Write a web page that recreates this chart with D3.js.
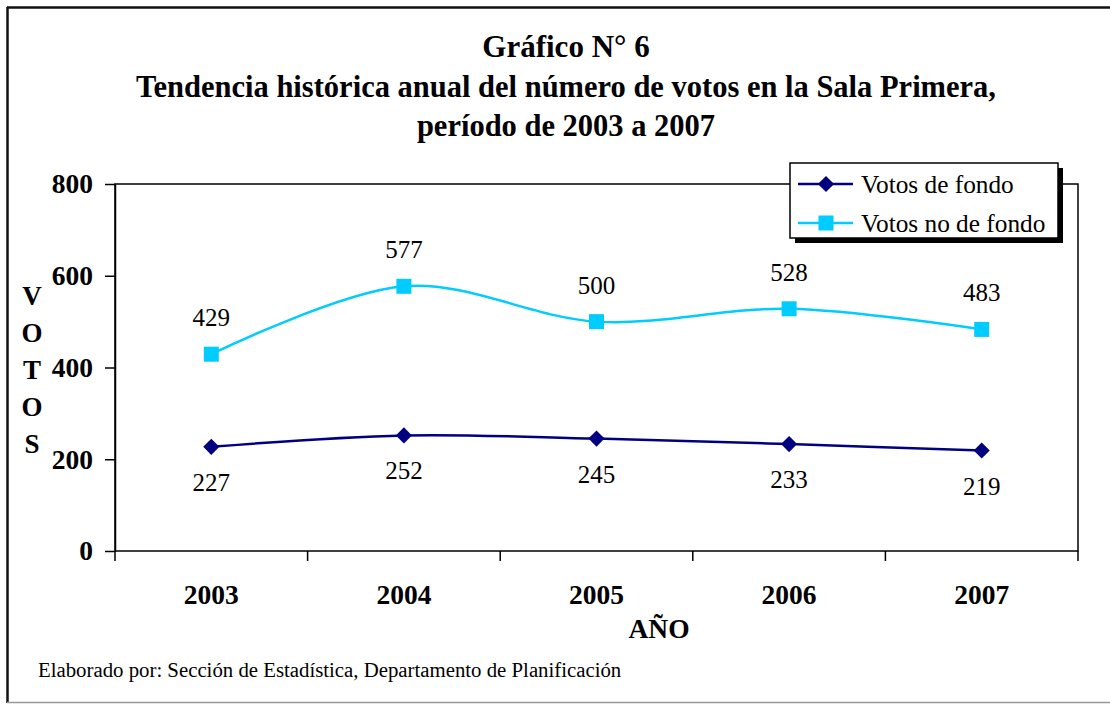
<!DOCTYPE html>
<html><head><meta charset="utf-8">
<script src="https://cdn.jsdelivr.net/npm/d3@7"></script>
<style>body{margin:0;background:#fff}svg{display:block}svg text{font-family:'Liberation Serif',serif !important}</style>
</head><body><svg id="c" width="1110" height="704" font-family="Liberation Serif, serif"></svg>
<script>
const years = ["2003","2004","2005","2006","2007"];
const votosFondo = [227,252,245,233,219];
const votosNoFondo = [429,577,500,528,483];
const yTicks = [0,200,400,600,800];
const seriesNames = ["Votos de fondo","Votos no de fondo"];
const titleLines = ["Gráfico N° 6","Tendencia histórica anual del número de votos en la Sala Primera,","período de 2003 a 2007"];

const svg = d3.select("#c");
// outer frame
svg.append("line").attr("x1",7).attr("y1",7.5).attr("x2",1110).attr("y2",7.5).attr("stroke","#111").attr("stroke-width",2.5);
svg.append("line").attr("x1",7.5).attr("y1",7).attr("x2",7.5).attr("y2",703).attr("stroke","#111").attr("stroke-width",2.5);
svg.append("line").attr("x1",7).attr("y1",702.5).attr("x2",1110).attr("y2",702.5).attr("stroke","#999").attr("stroke-width",1.5);

const L=115,R=1078,T=184,B=551;
const x = d3.scaleBand().domain(years).range([L,R]);
const y = d3.scaleLinear().domain([0,800]).range([B,T]);

// title
const tt = svg.append("g");
titleLines.forEach((t,i)=>tt.append("text").attr("x",566).attr("y",57+i*39.5).attr("text-anchor","middle")
  .attr("font-weight","bold").attr("font-size",i===0?31:30.5).text(t));

// plot border
svg.append("rect").attr("x",L).attr("y",T).attr("width",R-L).attr("height",B-T).attr("fill","none").attr("stroke","#000").attr("stroke-width",1.5);

// y axis
const ya = svg.append("g").attr("transform",`translate(${L},0)`).call(d3.axisLeft(y).tickValues(yTicks).tickSize(10).tickSizeOuter(0).tickPadding(12));
ya.attr("font-family",null);
ya.select(".domain").attr("stroke-width",1.5);
ya.selectAll(".tick line").attr("stroke-width",1.5);
ya.selectAll(".tick text").attr("font-size",27.5).attr("font-weight","bold").attr("fill","#000");

// x axis
const xa = svg.append("g").attr("transform",`translate(0,${B})`).call(d3.axisBottom(x).tickSize(0).tickPadding(33));
xa.attr("font-family",null);
xa.select(".domain").remove();
xa.selectAll(".tick text").attr("font-size",27.5).attr("font-weight","bold").attr("fill","#000");
const bounds = years.map(d=>x(d)).concat([R]);
svg.append("g").selectAll("line").data(bounds).join("line")
  .attr("x1",d=>d).attr("x2",d=>d).attr("y1",B).attr("y2",B+10).attr("stroke","#000").attr("stroke-width",1.5);

// axis titles
svg.append("text").attr("x",659).attr("y",638).attr("text-anchor","middle").attr("font-weight","bold").attr("font-size",27.5).text("AÑO");
"VOTOS".split("").forEach((c,i)=>svg.append("text").attr("x",32).attr("y",305+i*37).attr("text-anchor","middle").attr("font-weight","bold").attr("font-size",27).text(c));

const cx = d=>x(d)+x.bandwidth()/2;
const line = d3.line().x((d,i)=>cx(years[i])).y(d=>y(d)).curve(d3.curveCatmullRom.alpha(0));
const colors = ["#000080","#00CCFF"];

// series
svg.append("path").attr("d",line(votosNoFondo)).attr("fill","none").attr("stroke",colors[1]).attr("stroke-width",2.5);
svg.append("path").attr("d",line(votosFondo)).attr("fill","none").attr("stroke",colors[0]).attr("stroke-width",2.5);
svg.append("g").selectAll("rect").data(votosNoFondo).join("rect")
  .attr("x",(d,i)=>cx(years[i])-7.5).attr("y",d=>y(d)-7.5).attr("width",15).attr("height",15).attr("fill",colors[1]);
svg.append("g").selectAll("path").data(votosFondo).join("path")
  .attr("d",d3.symbol(d3.symbolSquare,130)())
  .attr("transform",(d,i)=>`translate(${cx(years[i])},${y(d)}) rotate(45)`).attr("fill",colors[0]);

// data labels
svg.append("g").selectAll("text").data(votosNoFondo).join("text")
  .attr("x",(d,i)=>cx(years[i])).attr("y",d=>y(d)-28).attr("text-anchor","middle").attr("font-size",25).text(d=>d);
svg.append("g").selectAll("text").data(votosFondo).join("text")
  .attr("x",(d,i)=>cx(years[i])).attr("y",d=>y(d)+44).attr("text-anchor","middle").attr("font-size",25).text(d=>d);

// legend
const lg = svg.append("g");
lg.append("rect").attr("x",795).attr("y",168).attr("width",268).attr("height",75).attr("fill","#000");
lg.append("rect").attr("x",790).attr("y",163).attr("width",268).attr("height",75).attr("fill","#fff").attr("stroke","#000").attr("stroke-width",1.5);
[0,1].forEach(i=>{
  const yy = 184+i*39;
  lg.append("line").attr("x1",798).attr("x2",853).attr("y1",yy).attr("y2",yy).attr("stroke",colors[i]).attr("stroke-width",2.5);
  if(i===0) lg.append("path").attr("d",d3.symbol(d3.symbolSquare,130)()).attr("transform",`translate(826,${yy}) rotate(45)`).attr("fill",colors[0]);
  else lg.append("rect").attr("x",826-7.5).attr("y",yy-7.5).attr("width",15).attr("height",15).attr("fill",colors[1]);
  lg.append("text").attr("x",861).attr("y",yy+9).attr("font-size",25.3).text(seriesNames[i]);
});

// footer
svg.append("text").attr("x",38).attr("y",677).attr("font-size",20.8).text("Elaborado por: Sección de Estadística, Departamento de Planificación");
</script></body></html>
